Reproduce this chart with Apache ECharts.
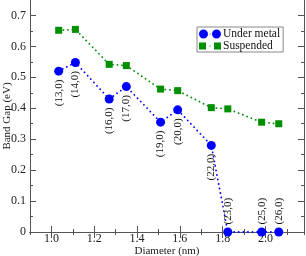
<!DOCTYPE html>
<html>
<head>
<meta charset="utf-8">
<script src="https://cdn.jsdelivr.net/npm/echarts@6/dist/echarts.min.js"></script>
<style>html,body{margin:0;padding:0;background:#fff}#c{width:306px;height:256px}</style>
</head>
<body>
<div id="c"></div>
<script>
var tubes = ['(13,0)','(14,0)','(16,0)','(17,0)','(19,0)','(20,0)','(22,0)','(23,0)','(25,0)','(26,0)'];
var diameter = [1.034, 1.112, 1.270, 1.350, 1.510, 1.590, 1.747, 1.824, 1.982, 2.062];
var underMetal = [0.52, 0.548, 0.43, 0.47, 0.355, 0.395, 0.28, 0, 0, 0];
var suspended = [0.652, 0.655, 0.542, 0.538, 0.462, 0.457, 0.402, 0.398, 0.355, 0.350];
var xMajorTicks = [1.0, 1.2, 1.4, 1.6, 1.8, 2.0];
var yTicks = [0, 0.1, 0.2, 0.3, 0.4, 0.5, 0.6, 0.7];
var yMinorTicks = [0.05, 0.15, 0.25, 0.35, 0.45, 0.55, 0.65];

var FONT = "'Liberation Serif','DejaVu Serif',serif";
var AX = '#555';
var BLUE = '#0000ff', GREEN = '#008f00';

var umData = diameter.map(function(d, i){
  var zero = underMetal[i] === 0;
  return {
    value: [d, underMetal[i]],
    label: zero ? {position: 'top', align: 'left', distance: 3} : {position: 'bottom', align: 'right', distance: 4}
  };
});
var spData = diameter.map(function(d, i){ return [d, suspended[i]]; });

function xAx(pos, major, labels){
  var a = {
    type: 'value', position: pos, min: 0.9, max: 2.18,
    axisLine: {show: true, lineStyle: {color: AX, width: 1}},
    splitLine: {show: false},
    axisTick: {show: true, inside: true, length: major ? 6 : 3, lineStyle: {color: AX}},
    axisLabel: {show: false}
  };
  if (major) {
    a.axisTick.customValues = xMajorTicks;
    a.axisLabel = {show: labels, customValues: xMajorTicks, margin: 1, color: '#222', fontFamily: FONT, fontSize: 12,
      formatter: function(v){ return v.toFixed(1); }};
  } else {
    a.interval = 0.1;
  }
  if (labels) {
    a.name = 'Diameter (nm)'; a.nameLocation = 'middle'; a.nameGap = 14; a.nameMoveOverlap = false;
    a.nameTextStyle = {color: '#222', fontFamily: FONT, fontSize: 11};
  }
  return a;
}
function yAx(pos, major, labels){
  var a = {
    type: 'value', position: pos, min: 0, max: 0.75,
    axisLine: {show: true, lineStyle: {color: AX, width: 1}},
    splitLine: {show: false},
    axisTick: {show: true, inside: true, length: major ? 6 : 3, lineStyle: {color: AX},
      customValues: major ? yTicks : yMinorTicks},
    axisLabel: {show: false}
  };
  if (labels) {
    a.axisLabel = {show: true, customValues: yTicks, margin: 4, color: '#222', fontFamily: FONT, fontSize: 12,
      formatter: function(v){ return v === 0 ? '0' : v.toFixed(1); }};
    a.name = 'Band Gap (eV)'; a.nameLocation = 'middle'; a.nameGap = 17; a.nameMoveOverlap = false;
    a.nameTextStyle = {color: '#222', fontFamily: FONT, fontSize: 11};
  }
  return a;
}

var chart = echarts.init(document.getElementById('c'), null, {renderer: 'canvas'});
chart.setOption({
  animation: false,
  backgroundColor: '#fff',
  grid: {left: 30, right: 2, top: 0, bottom: 24, containLabel: false, outerBoundsMode: 'none'},
  xAxis: [xAx('bottom', true, true), xAx('bottom', false, false), xAx('top', true, false), xAx('top', false, false)],
  yAxis: [yAx('left', true, true), yAx('left', false, false), yAx('right', true, false), yAx('right', false, false)],
  legend: {
    orient: 'vertical', left: 197, top: 27,
    padding: [1, 3, 0, 2], itemGap: 0, itemWidth: 22, itemHeight: 9,
    backgroundColor: '#fff', borderColor: '#888', borderWidth: 1,
    textStyle: {fontFamily: FONT, fontSize: 11.5, color: '#111', padding: [0, 0, 0, -3]},
    data: [
      {name: 'Under metal', icon: 'path://M0,4.5a4.5,4.5 0 1,0 9,0a4.5,4.5 0 1,0 -9,0Z M10.5,4.5a0.5,0.5 0 1,0 1,0a0.5,0.5 0 1,0 -1,0Z M13,4.5a4.5,4.5 0 1,0 9,0a4.5,4.5 0 1,0 -9,0Z'},
      {name: 'Suspended', icon: 'path://M0,1h7v7h-7Z M10.5,4h1v1h-1Z M15,1h7v7h-7Z'}
    ]
  },
  series: [
    {
      name: 'Under metal', type: 'line', xAxisIndex: 0, yAxisIndex: 0,
      data: umData, symbol: 'circle', symbolSize: 9, z: 3,
      itemStyle: {color: BLUE},
      lineStyle: {color: BLUE, width: 1.8, type: [0.1, 4.5], cap: 'round'},
      label: {show: true, rotate: 90, verticalAlign: 'middle', color: '#111', fontFamily: FONT, fontSize: 11,
        formatter: function(p){ return tubes[p.dataIndex]; }}
    },
    {
      name: 'Suspended', type: 'line', xAxisIndex: 0, yAxisIndex: 0,
      data: spData, symbol: 'rect', symbolSize: 7, z: 2,
      itemStyle: {color: GREEN},
      lineStyle: {color: GREEN, width: 1.8, type: [0.1, 4.5], cap: 'round'}
    }
  ]
});
</script>
</body>
</html>
